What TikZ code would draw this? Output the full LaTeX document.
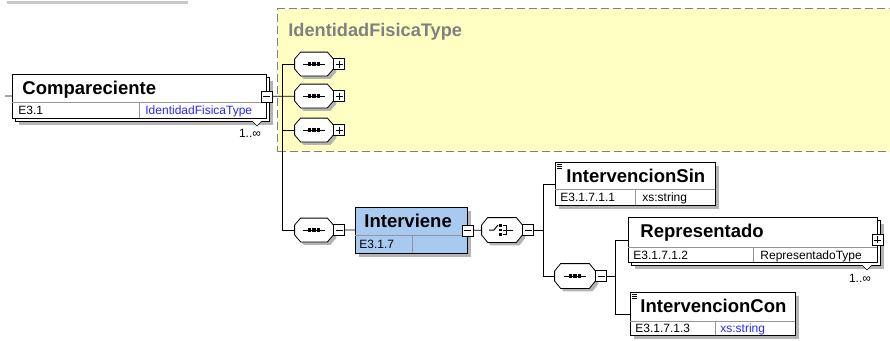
\documentclass[tikz,border=0pt]{standalone}
\usepackage{fontspec}
\setmainfont{Liberation Sans}
\usetikzlibrary{calc,positioning,shadows}
\definecolor{shadowgray}{RGB}{180,180,180}
\definecolor{typeblue}{RGB}{40,40,250}
\definecolor{elblue}{RGB}{169,202,240}
\definecolor{cplxyellow}{RGB}{255,255,196}
\definecolor{hdrgray}{RGB}{128,128,128}
\definecolor{rulegray}{RGB}{150,150,150}
\definecolor{topgray}{RGB}{200,200,200}
\newcommand{\ppc}{path picture bounding box.center}
% octagon of a compositor, drawn round an empty node
\newcommand{\octpath}[1]{($(#1.west)+(0,-5)$) -- ($(#1.north west)+(6,0)$) -- ($(#1.north east)+(-6,0)$) -- ($(#1.east)+(0,-5)$) -- ($(#1.east)+(0,5)$) -- ($(#1.south east)+(-6,0)$) -- ($(#1.south west)+(6,0)$) -- ($(#1.west)+(0,5)$) -- cycle}
\newcommand{\octbox}[1]{\fill[shadowgray, transform canvas={xshift=3pt, yshift=-3pt}] \octpath{#1}; \draw[fill=white] \octpath{#1};}
\newcommand{\seqsym}[1]{\draw[line width=1pt] ($(#1)+(-11,0)$) -- ($(#1)+(11,0)$);
  \foreach \dx in {-4.5,0,4.5} \fill ($(#1)+(\dx-1.6,-1.6)$) rectangle +(3.2,3.2);}
\newcommand{\choicesym}[1]{\draw[line width=1pt] ($(#1)+(-13,0)$) -- ($(#1)+(-8,0)$) -- ($(#1)+(-4,-5)$);
  \foreach \dy in {-4.5,0,4.5} \fill ($(#1)+(-2.8,\dy-1.4)$) rectangle +(2.8,2.8);
  \draw ($(#1)+(1,-4.5)$) -- ($(#1)+(4,-4.5)$) -- ($(#1)+(4,4.5)$) -- ($(#1)+(1,4.5)$);
  \draw ($(#1)+(1,0)$) -- ($(#1)+(11,0)$);}

\begin{document}
\begin{tikzpicture}[x=1pt,y=-1pt,line width=0.8pt]
  \tikzstyle{cplxarea} = [rectangle, draw=hdrgray, dash pattern=on 8pt off 4pt, line width=1.2pt, fill=cplxyellow, inner sep=0pt, anchor=north west]
  \tikzstyle{hdrtext} = [anchor=base west, inner sep=0pt, text=hdrgray, font=\bfseries\fontsize{18.2}{20}\selectfont]
  \tikzstyle{elbox} = [rectangle, draw=black, fill=white, inner sep=0pt, anchor=north west, drop shadow={shadow xshift=4pt, shadow yshift=-4pt, fill=shadowgray, opacity=1}]
  \tikzstyle{multbox} = [rectangle, draw=black, fill=white, inner sep=0pt, anchor=north west, general shadow={shadow xshift=7pt, shadow yshift=-7pt, fill=shadowgray}, general shadow={shadow xshift=3pt, shadow yshift=-3pt, fill=white, draw=black}]
  \tikzstyle{eltitle} = [anchor=base west, inner sep=0pt, font=\bfseries\fontsize{18.5}{20}\selectfont]
  \tikzstyle{elrow} = [anchor=base west, inner sep=0pt, font=\fontsize{12}{14}\selectfont]
  \tikzstyle{multtext} = [inner sep=0pt, font=\fontsize{12}{14}\selectfont]
  \tikzstyle{rowrule} = [draw=rulegray]
  \tikzstyle{notch} = [draw=black, fill=white, line width=0.6pt]
  \tikzstyle{iconline} = [draw=black, line width=0.6pt]
  \tikzstyle{pmbox} = [rectangle, draw=black, fill=white, inner sep=0pt, minimum size=11pt]
  \tikzstyle{minusbox} = [pmbox, path picture={\draw ($(\ppc)+(-3.5,0)$) -- ($(\ppc)+(3.5,0)$);}]
  \tikzstyle{plusbox} = [pmbox, path picture={\draw ($(\ppc)+(-3.5,0)$) -- ($(\ppc)+(3.5,0)$); \draw ($(\ppc)+(0,-3.5)$) -- ($(\ppc)+(0,3.5)$);}]
  \tikzstyle{octnode} = [rectangle, inner sep=0pt, minimum width=38pt, minimum height=23pt]

  \useasboundingbox (0,0) rectangle (890,340);

  % top rule and complex type area
  \draw[topgray, line width=3pt] (7,2) -- (188,2);
  \node[cplxarea, minimum width=640, minimum height=143] (cplx) at (277,8) {};
  \node[hdrtext] (cplx-t) at (288,36) {IdentidadFisicaType};

  % Compareciente
  \node[multbox, minimum width=254, minimum height=44] (comp) at (12,74) {};
  \draw[rowrule] (12,102) -- (266,102);
  \draw[rowrule] (139,102) -- (139,118);
  \node[eltitle] (comp-t) at (22,94) {Compareciente};
  \node[elrow] (comp-id) at (18,114) {E3.1};
  \node[elrow, text=typeblue] (comp-ty) at (145,114) {IdentidadFisicaType};
  \draw[notch] (252,121) -- (257,126) -- (262,121);
  \node[multtext] (comp-n) at (250,133) {1..∞};
  \node[minusbox] (comp-m) at (comp.east) {};
  \coordinate (comp-in) at (5,96);

  % sequences of the complex type
  \node[octnode] (s1) at (314,64) {};
  \node[octnode] (s2) at (314,96) {};
  \node[octnode] (s3) at (314,130) {};
  \node[octnode] (s4) at (314,230) {};
  \foreach \s in {s1,s2,s3,s4} {\octbox{\s} \seqsym{\s}}
  \node[plusbox, anchor=west] (s1-p) at (s1.east) {};
  \node[plusbox, anchor=west] (s2-p) at (s2.east) {};
  \node[plusbox, anchor=west] (s3-p) at (s3.east) {};
  \node[minusbox, anchor=west] (s4-m) at (s4.east) {};
  \coordinate (trunk1) at (282,0);

  % Interviene
  \node[elbox, fill=elblue, minimum width=112, minimum height=46] (interv) at (355,207) {};
  \draw[rowrule] (355,235) -- (467,235);
  \draw[rowrule] (412,235) -- (412,253);
  \node[eltitle] (interv-t) at (364,227) {Interviene};
  \node[elrow] (interv-id) at (359,248) {E3.1.7};
  \node[minusbox] (interv-m) at (interv.east) {};

  % choice
  \node[octnode, minimum width=40pt, minimum height=24pt] (ch) at (502,230) {};
  \octbox{ch} \choicesym{ch}
  \node[minusbox, anchor=west] (ch-m) at (ch.east) {};
  \coordinate (trunk2) at (543,0);

  % IntervencionSin
  \node[elbox, minimum width=160, minimum height=43] (isin) at (555,162) {};
  \draw[rowrule] (555,189) -- (715,189);
  \draw[rowrule] (635,189) -- (635,205);
  \draw[iconline] (557,164) -- (562,164) (557,166) -- (562,166) (557,168) -- (562,168);
  \node[eltitle] (isin-t) at (566,182) {IntervencionSin};
  \node[elrow] (isin-id) at (560,201) {E3.1.7.1.1};
  \node[elrow] (isin-ty) at (642,201) {xs:string};

  % inner sequence
  \node[octnode, minimum width=40pt, minimum height=24pt] (s5) at (575,276) {};
  \octbox{s5} \seqsym{s5}
  \node[minusbox, anchor=west] (s5-m) at (s5.east) {};
  \coordinate (trunk3) at (615,0);

  % Representado
  \node[multbox, minimum width=249, minimum height=45] (rep) at (628,217) {};
  \draw[rowrule] (628,247) -- (877,247);
  \draw[rowrule] (753,247) -- (753,262);
  \node[eltitle] (rep-t) at (640,237) {Representado};
  \node[elrow] (rep-id) at (633,259) {E3.1.7.1.2};
  \node[elrow] (rep-ty) at (760,259) {RepresentadoType};
  \draw[notch] (862,265) -- (867,270) -- (872,265);
  \node[multtext] (rep-n) at (860,278) {1..∞};
  \node[plusbox] (rep-p) at (rep.east) {};

  % IntervencionCon
  \node[elbox, minimum width=165, minimum height=43] (icon) at (630,292) {};
  \draw[rowrule] (630,321) -- (795,321);
  \draw[rowrule] (715,321) -- (715,335);
  \draw[iconline] (632,294) -- (637,294) (632,296) -- (637,296) (632,298) -- (637,298);
  \node[eltitle] (icon-t) at (640,312) {IntervencionCon};
  \node[elrow] (icon-id) at (635,332) {E3.1.7.1.3};
  \node[elrow, text=typeblue] (icon-ty) at (720,332) {xs:string};

  % connectors
  \draw (comp-in) -- (comp);
  \draw (comp-m) -- (s2);
  \draw (s1) -- (s1 -| trunk1) |- (s4);
  \draw (s3) -- (s3 -| trunk1);
  \draw (s4-m) -- (interv);
  \draw (interv-m) -- (ch);
  \draw (ch-m) -- (ch-m -| trunk2);
  \draw (isin) -- (isin -| trunk2) |- (s5);
  \draw (s5-m) -- (s5-m -| trunk3);
  \draw (rep) -- (rep -| trunk3) |- (icon);
\end{tikzpicture}
\end{document}
